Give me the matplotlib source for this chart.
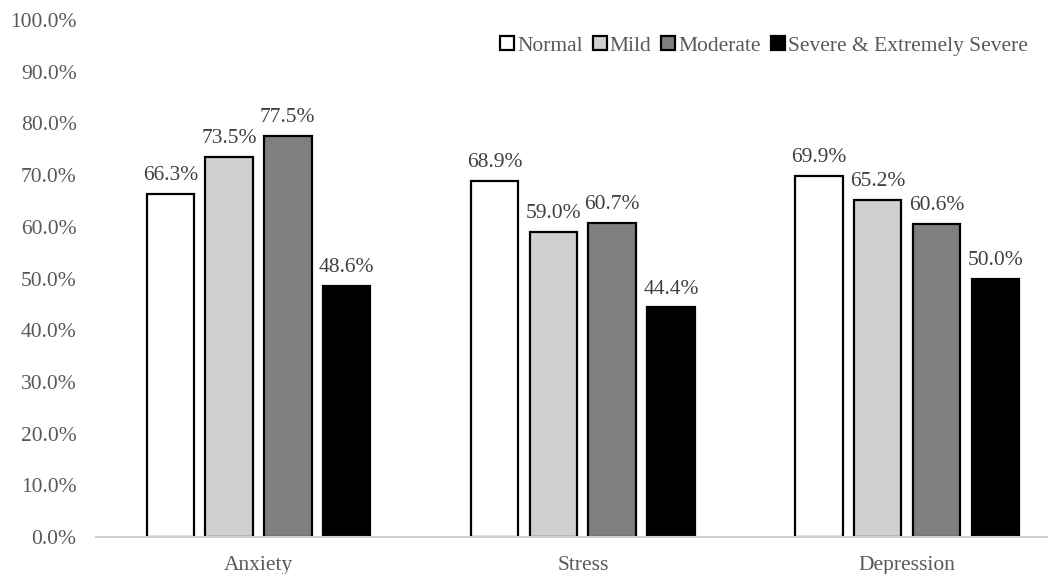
import numpy as np
import matplotlib
matplotlib.use("Agg")
import matplotlib.pyplot as plt
from matplotlib.ticker import PercentFormatter

plt.rcParams['font.family'] = ['Liberation Serif', 'DejaVu Serif']

categories = ['Anxiety', 'Stress', 'Depression']
series = ['Normal', 'Mild', 'Moderate', 'Severe & Extremely Severe']
normal = [66.3, 68.9, 69.9]
mild = [73.5, 59.0, 65.2]
moderate = [77.5, 60.7, 60.6]
severe = [48.6, 44.4, 50.0]
colors = ['#ffffff', '#d0d0d0', '#7f7f7f', '#000000']

txt = '#595959'
fs = 15.5
fig = plt.figure(figsize=(10.52, 5.74), dpi=100)
ax = fig.add_axes([0.0913, 0.0645, 0.9039, 0.9005])

x = np.arange(len(categories))
w = 0.146
step = 0.181
for i, (name, vals) in enumerate(zip(series, [normal, mild, moderate, severe])):
    pos = x + (i - 1.5) * step
    bars = ax.bar(pos, vals, w, color=colors[i], edgecolor='black', linewidth=1.6, label=name)
    for b, v in zip(bars, vals):
        ax.text(b.get_x() + b.get_width() / 2, v + 2.7, f'{v:.1f}%', ha='center', va='baseline',
                fontsize=fs, color='#404040')

ax.set_xlim(-0.5008, 2.431)
ax.set_ylim(0, 100)
ax.set_yticks(np.arange(0, 101, 10))
ax.yaxis.set_major_formatter(PercentFormatter(decimals=1))
ax.set_xticks(x)
ax.set_xticklabels(categories)
ax.tick_params(axis='both', length=0, labelsize=fs, colors=txt)
ax.tick_params(axis='x', pad=14)
ax.tick_params(axis='y', pad=14)
for s in ['top', 'right', 'left']:
    ax.spines[s].set_visible(False)
ax.spines['bottom'].set_color('#d0d0d0')
ax.spines['bottom'].set_linewidth(1.5)

leg = fig.legend(*ax.get_legend_handles_labels(), loc='center right', bbox_to_anchor=(0.977, 0.92),
                 ncol=4, frameon=False, fontsize=fs, handlelength=0.65, handleheight=0.65,
                 handletextpad=0.15, columnspacing=0.45, borderaxespad=0, borderpad=0)
for t in leg.get_texts():
    t.set_color(txt)

fig.savefig('out.png', dpi=100)
